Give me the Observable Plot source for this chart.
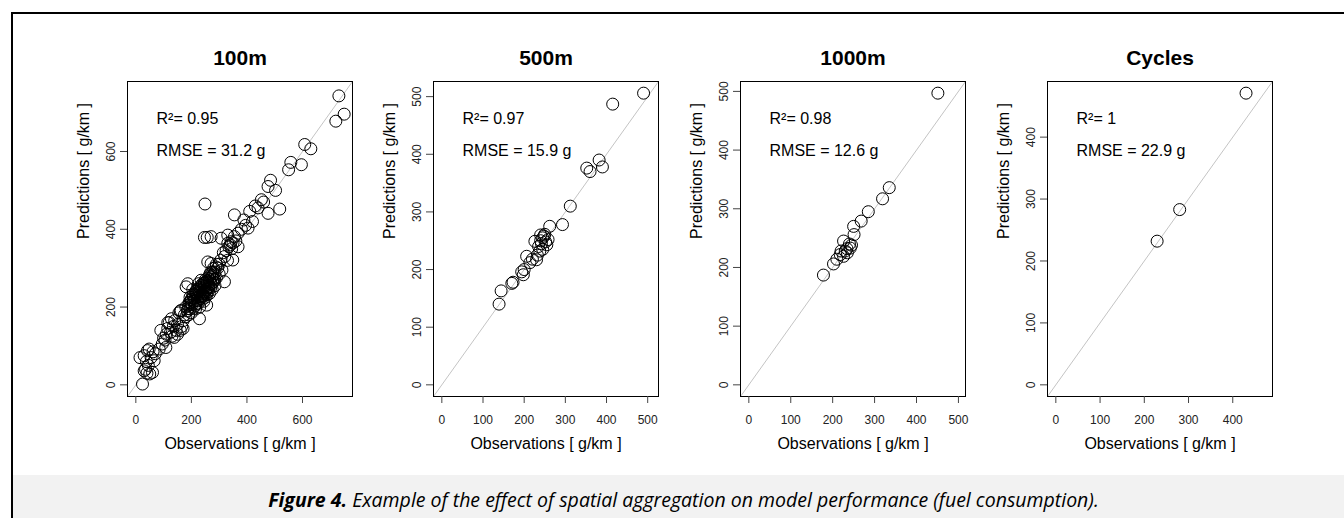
<!DOCTYPE html>
<html><head><meta charset="utf-8">
<script src="https://cdn.jsdelivr.net/npm/d3@7"></script>
<script src="https://cdn.jsdelivr.net/npm/@observablehq/plot@0.6"></script>
<style>
body{margin:0;background:#fff;}
#fig{position:relative;width:1344px;height:518px;overflow:hidden;background:#fff;font-family:"Liberation Sans",Arial,sans-serif;}
#border{position:absolute;left:11px;top:12px;width:1400px;height:600px;border-left:2px solid #000;border-top:2px solid #000;}
#caption{position:absolute;left:13px;top:475px;width:1331px;height:43px;overflow:hidden;background:#f2f2f2;font-family:"Open Sans",sans-serif;font-style:italic;font-size:19.5px;text-align:center;line-height:50px;color:#000;padding-left:10px;box-sizing:border-box;}
.panel{position:absolute;top:0;}
.panel svg{overflow:visible;}
</style></head>
<body>
<div id="fig"><div id="border"></div><div id="caption"><b>Figure 4.</b> Example of the effect of spatial aggregation on model performance (fuel consumption).</div></div>
<script>
// ---- data ----
const titles = ["100m", "500m", "1000m", "Cycles"];
const r2Values = ["0.95", "0.97", "0.98", "1"];
const rmseValues = ["31.2", "15.9", "12.6", "22.9"];

const ticks100 = [0, 200, 400, 600];
const ticks500 = [0, 100, 200, 300, 400, 500];
const ticks1000 = [0, 100, 200, 300, 400, 500];
const ticksCycles = [0, 100, 200, 300, 400];

const obs100 = [24,30,35,40,60,45,30,48,55,38,50,62,70,15,66,42,
  84,90,108,100,110,115,120,105,95,125,130,135,140,145,150,150,115,128,138,160,165,155,170,160,175,180,163,180,185,190,195,200,170,190,181,187,
  200,205,210,215,220,225,230,235,240,245,250,255,260,265,270,275,280,285,290,295,300,210,220,230,240,250,260,270,280,290,229,200,215,235,245,255,265,275,285,225,205,195,300,305,310,319,289,271,259,320,315,325,330,349,335,340,345,350,331,368,355,360,271,257,247,343,307,368,331,355,249,
  212,218,222,228,232,238,242,248,252,258,262,268,272,278,282,240,230,250,260,270,
  196,202,208,214,219,224,227,233,236,239,244,247,251,254,257,263,266,273,277,284,188,192,198,206,216,226,236,246,256,266,
  380,395,420,440,460,389,404,410,430,452,476,518,476,485,503,550,558,596,608,630,720,731,750];
const pred100 = [2,36,40,30,32,50,75,92,70,60,28,85,80,70,62,88,
  92,140,96,120,130,145,160,115,105,135,125,150,165,140,130,155,160,170,122,140,150,185,165,190,180,175,191,200,190,205,195,210,145,180,252,260,
  220,230,215,240,225,210,235,250,230,255,240,265,250,270,260,280,265,290,275,300,285,200,245,200,260,225,275,290,300,310,170,185,195,269,215,205,235,245,255,260,245,225,310,320,295,265,303,312,316,330,340,345,320,321,355,360,350,365,364,355,381,370,381,379,379,368,377,390,385,437,465,
  222,232,218,242,228,244,238,252,246,262,256,266,276,272,286,220,250,270,240,250,
  212,206,226,204,236,216,246,222,256,234,228,262,242,236,268,252,284,258,290,270,196,212,218,232,208,238,226,262,232,280,
  400,410,420,455,470,424,403,446,460,476,441,452,510,526,500,553,572,566,618,607,678,743,696];

const obs500 = [139,144,170,173,194,198,200,206,214,220,230,226,232,235,238,240,242,245,248,250,252,255,258,262,245,240,293,312,352,360,382,390,415,490];
const pred500 = [140,163,176,178,196,191,200,223,212,218,217,249,225,240,232,250,245,255,258,261,248,243,252,275,235,260,278,310,376,370,390,378,487,506];

const obs1000 = [178,202,210,218,226,230,220,235,234,242,240,226,245,250,251,268,285,319,335,451];
const pred1000 = [187,206,214,222,219,228,228,225,232,233,240,245,238,270,256,279,295,317,336,497];

const obsCycles = [229, 280, 430];
const predCycles = [232, 283, 471];

// ---- build ----
const panels = [
  {title: titles[0], obs: obs100, pred: pred100, ticks: ticks100, r2: r2Values[0], rmse: rmseValues[0]},
  {title: titles[1], obs: obs500, pred: pred500, ticks: ticks500, r2: r2Values[1], rmse: rmseValues[1]},
  {title: titles[2], obs: obs1000, pred: pred1000, ticks: ticks1000, r2: r2Values[2], rmse: rmseValues[2]},
  {title: titles[3], obs: obsCycles, pred: predCycles, ticks: ticksCycles, r2: r2Values[3], rmse: rmseValues[3]}
];
const frameLefts = [127, 433, 740, 1047];
const ML = 90, FW = 225, MR = 10, MT = 81, MB = 74, H = 470;
const fig = document.getElementById("fig");
const font = "Liberation Sans, Arial, sans-serif";

panels.forEach((p, i) => {
  const data = p.obs.map((o, j) => ({obs: o, pred: p.pred[j]}));
  const mx = d3.max([...p.obs, ...p.pred]);
  const pad = 0.04 * mx;
  const lim = [0 - pad, mx + pad];
  const chart = Plot.plot({
    width: ML + FW + MR, height: H,
    marginLeft: ML, marginRight: MR, marginTop: MT, marginBottom: MB,
    style: {background: "transparent", fontFamily: font, overflow: "visible"},
    x: {domain: lim},
    y: {domain: lim},
    marks: [
      Plot.link([lim], {x1: d => d[0], y1: d => d[0], x2: d => d[1], y2: d => d[1], stroke: "#c4c4c4", strokeWidth: 1}),
      Plot.dot(data, {x: "obs", y: "pred", r: 6, stroke: "#000", fill: "none", strokeWidth: 1}),
      Plot.frame({stroke: "#000", strokeWidth: 1}),
      Plot.axisX(p.ticks, {tickSize: 7, tickPadding: 12, fontSize: 12, fill: "#222", stroke: "#444", label: null}),
      Plot.axisY(p.ticks, {tickSize: 7, tickFormat: () => "", stroke: "#444", label: null}),
      Plot.text(p.ticks, {y: d => d, text: d => String(d), frameAnchor: "left", rotate: -90, dx: -16.5, textAnchor: "middle", lineAnchor: "middle", fontSize: 12, fill: "#222"}),
      Plot.text([p.title], {text: d => d, frameAnchor: "top", dy: -31, lineAnchor: "top", fontSize: 21, fontWeight: "bold", fill: "#000"}),
      Plot.text(["R\u00B2= " + p.r2], {text: d => d, frameAnchor: "top-left", dx: 29, dy: 31, lineAnchor: "top", textAnchor: "start", fontSize: 16, fill: "#000"}),
      Plot.text(["RMSE = " + p.rmse + " g"], {text: d => d, frameAnchor: "top-left", dx: 29, dy: 63, lineAnchor: "top", textAnchor: "start", fontSize: 16, fill: "#000"}),
      Plot.text(["Observations [ g/km ]"], {text: d => d, frameAnchor: "bottom", dy: 41, lineAnchor: "top", fontSize: 16, fill: "#000"}),
      Plot.text(["Predictions [ g/km ]"], {text: d => d, frameAnchor: "left", dx: -44, rotate: -90, lineAnchor: "middle", fontSize: 16, fill: "#000"})
    ]
  });
  const wrap = document.createElement("div");
  wrap.className = "panel";
  wrap.style.left = (frameLefts[i] - ML) + "px";
  wrap.appendChild(chart);
  fig.appendChild(wrap);
});
</script>
</body></html>
